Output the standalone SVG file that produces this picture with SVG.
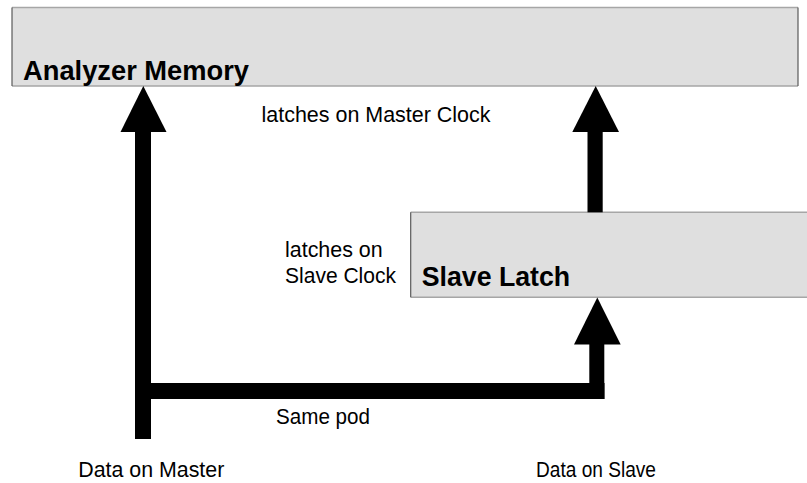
<svg xmlns="http://www.w3.org/2000/svg" width="807" height="483" viewBox="0 0 807 483">
<style>
.box{fill:#dfdfdf;stroke:none}
.hb{stroke:#a6a6a6;stroke-width:1.5;fill:none}
.vb{stroke:#5a5a5a;stroke-width:1.2;fill:none}
.bold{font-family:"Liberation Sans",Arial,sans-serif;font-weight:bold;font-size:28px;fill:#000}
.lbl{font-family:"Liberation Sans",Arial,sans-serif;font-size:22px;fill:#000}
.conn{fill:#000;stroke:none}
</style>
<rect width="807" height="483" fill="#fff"/>
<g id="analyzer-memory">
<rect class="box" x="12" y="7.5" width="786" height="78.5"/>
<line class="hb" x1="12" y1="7.5" x2="798" y2="7.5"/>
<line class="hb" x1="12" y1="86" x2="798" y2="86"/>
<line class="vb" x1="12" y1="7.5" x2="12" y2="86"/>
<line class="vb" x1="798" y1="7.5" x2="798" y2="86" stroke-width="2"/>
<text class="bold" x="23" y="80" textLength="226" lengthAdjust="spacingAndGlyphs">Analyzer Memory</text>
</g>
<g id="slave-latch">
<rect class="box" x="410.7" y="212.3" width="400" height="85"/>
<line class="hb" x1="410.7" y1="212.3" x2="807" y2="212.3"/>
<line class="hb" x1="410.7" y1="297.3" x2="807" y2="297.3"/>
<line class="vb" x1="410.7" y1="212.3" x2="410.7" y2="297.3"/>
<text class="bold" x="421.7" y="285.7" textLength="148.5" lengthAdjust="spacingAndGlyphs">Slave Latch</text>
</g>
<g id="connectors">
<rect class="conn" x="135" y="130" width="16" height="309"/>
<polygon class="conn" points="143.3,86 120.5,132 166.5,132"/>
<rect class="conn" x="135" y="383" width="469.5" height="16"/>
<rect class="conn" x="589.3" y="343" width="15" height="56"/>
<polygon class="conn" points="597.3,297.5 574,344.5 620.7,344.5"/>
<rect class="conn" x="587.5" y="130" width="15.2" height="82.3"/>
<polygon class="conn" points="595.7,86 572.3,132 619,132"/>
</g>
<g id="labels">
<text class="lbl" x="261.5" y="121.7" textLength="229" lengthAdjust="spacingAndGlyphs">latches on Master Clock</text>
<text class="lbl" x="285" y="257.3" textLength="97.7" lengthAdjust="spacingAndGlyphs">latches on</text>
<text class="lbl" x="285" y="283.3" textLength="111" lengthAdjust="spacingAndGlyphs">Slave Clock</text>
<text class="lbl" x="276" y="424" textLength="94" lengthAdjust="spacingAndGlyphs">Same pod</text>
<text class="lbl" x="78.3" y="476.7" textLength="146" lengthAdjust="spacingAndGlyphs">Data on Master</text>
<text class="lbl" x="536" y="476.7" textLength="120" lengthAdjust="spacingAndGlyphs">Data on Slave</text>
</g>
</svg>
